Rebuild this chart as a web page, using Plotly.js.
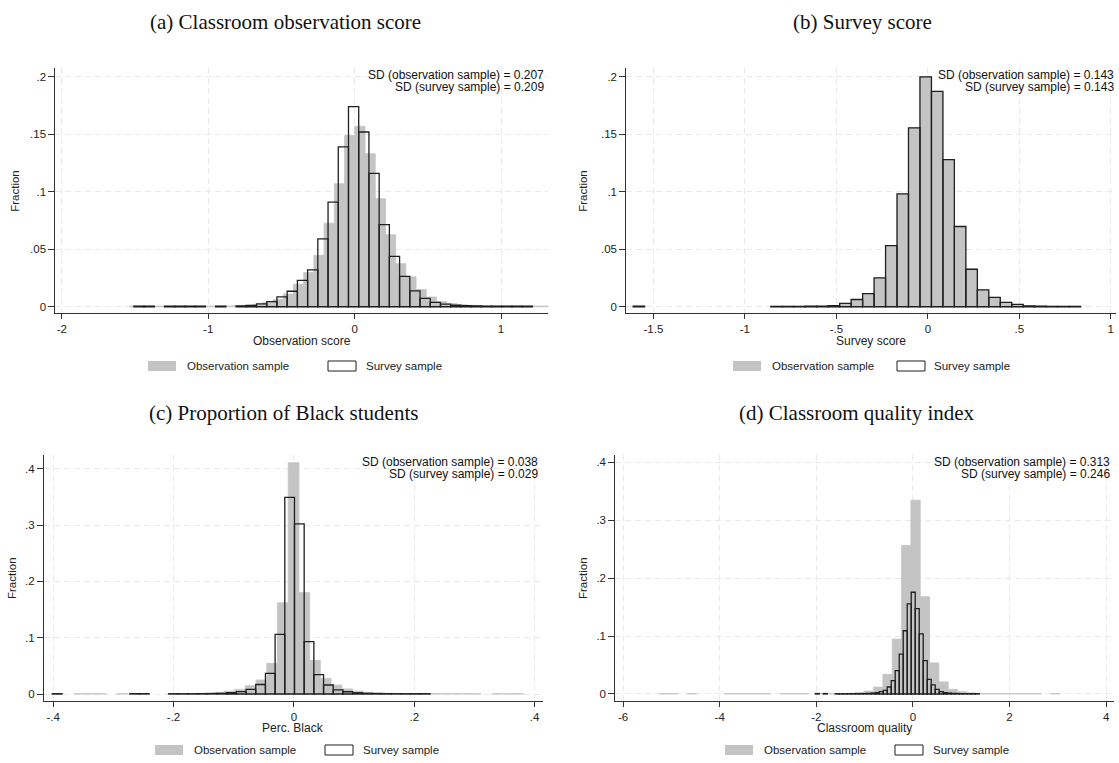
<!DOCTYPE html>
<html><head><meta charset="utf-8">
<script src="https://cdn.plot.ly/plotly-3.0.1.min.js"></script>
<style>html,body{margin:0;padding:0;background:#fff;}#chart{width:1119px;height:763px;}</style>
</head><body><div id="chart"></div>
<script>
// ---------- DATA (fraction per histogram bin; null = empty bin) ----------
// Panel (a) Classroom observation score
const obsA_start = -1.5346, obsA_width = 0.0698;
const obsA = [0.0006,0.0006,0.0006,0.0006,0.0006,0.0006,0.0006,0.0006,0.0006,0.0006,
  0.0008,0.0012,0.002,0.0035,0.0062,0.011,0.0196,0.0297,0.0447,0.0727,0.107,0.149,
  0.157,0.133,0.094,0.0626,0.0375,0.026,0.015,0.0085,0.0045,0.0028,0.0018,0.0012,
  0.0009,0.0007,0.0006,0.0006,0.0006,0.0006,0.0006];
const surA_start = -1.5078, surA_width = 0.0698;
const surA = [0.0005,0.0005,null,0.0005,0.0005,0.0005,0.0005,null,0.0005,null,0.0007,0.0012,
  0.0025,0.0045,0.0085,0.0135,0.023,0.032,0.059,0.091,0.139,0.174,0.152,0.116,0.0715,
  0.0438,0.0265,0.0138,0.0072,0.0038,0.0022,0.0013,0.0009,0.0007,0.0005,0.0005,0.0005,
  0.0005,0.0005];
// Panel (b) Survey score
const obsB_start = -1.6105, obsB_width = 0.0627;
const obsB = [0.0005,null,null,null,null,null,null,null,null,null,null,null,0.0004,0.0004,0.0004,0.0005,0.0006,0.001,
  0.0029,0.0063,0.0115,0.0251,0.0531,0.0981,0.1556,0.2,0.1873,0.128,0.0698,0.0326,
  0.0147,0.0081,0.0038,0.002,0.0008,0.0005,0.0004,0.0004,0.0004];
const surB_start = -1.6105, surB_width = 0.0627;
const surB = [0.0005,null,null,null,null,null,null,null,null,null,null,null,0.0004,0.0004,0.0004,0.0005,0.0006,0.001,
  0.0029,0.0063,0.0115,0.0251,0.0531,0.0981,0.1556,0.2,0.1873,0.128,0.0698,0.0326,
  0.0147,0.0081,0.0038,0.002,0.0008,0.0005,0.0004,0.0004,0.0004];
// Panel (c) Proportion of Black students
const obsC_start = -0.401, obsC_width = 0.0178;
const obsC = [0.0006,null,0.0006,0.0006,0.0006,null,0.0006,null,null,null,null,0.0006,0.0007,0.001,0.0018,
  0.003,0.005,0.0083,0.0148,0.0249,0.0544,0.162,0.4107,0.18,0.0598,0.0278,0.016,0.009,
  0.005,0.003,0.002,0.0013,0.001,0.0008,0.0007,0.0006,0.0006,0.0006,0.0006,0.0006,null,
  0.0006,0.0006,0.0006];
const surC_start = -0.4015, surC_width = 0.0161;
const surC = [0.0006,null,null,null,null,null,null,null,0.0006,0.0006,null,null,0.0005,0.0005,0.0005,0.0006,0.0008,
  0.0012,0.0024,0.0041,0.0083,0.0169,0.0365,0.106,0.349,0.302,0.093,0.0345,0.016,0.0075,
  0.004,0.0022,0.0012,0.0008,0.0006,0.0005,0.0005,0.0006,0.0006];
// Panel (d) Classroom quality index
const obsD_start = -5.252, obsD_width = 0.193;
const obsD = [0.0008,0.0008,null,0.0008,null,null,null,0.0008,0.0008,0.0008,0.0008,0.0008,null,0.0008,
  0.0008,0.0008,null,0.0008,0.0008,0.0009,0.0012,0.0022,0.005,0.012,0.034,0.0948,0.2566,
  0.3347,0.168,0.0538,0.0208,0.008,0.004,0.0018,0.0009,0.0008,0.0008,0.0008,0.0008,
  0.0008,0.0008,null,0.0008];
const surD_start = -2.0217, surD_width = 0.0828;
const surD = [0.0008,null,0.0008,null,null,0.0005,0.0005,0.0005,0.0005,0.0005,0.0006,0.0007,0.0008,
  0.001,0.0015,0.0025,0.004,0.0064,0.0121,0.0231,0.0405,0.0688,0.1092,0.1555,0.1757,
  0.1474,0.104,0.0578,0.0254,0.0156,0.0081,0.004,0.0025,0.0015,0.001,0.0008,0.0006,
  0.0005,0.0005,0.0005,0.0005];

const titles = ['(a) Classroom observation score','(b) Survey score',
  '(c) Proportion of Black students','(d) Classroom quality index'];
const xTitles = ['Observation score','Survey score','Perc. Black','Classroom quality'];
const sdObs = ['0.207','0.143','0.038','0.313'];
const sdSur = ['0.209','0.143','0.029','0.246'];
const xTickVals = [[-2,-1,0,1],[-1.5,-1,-0.5,0,0.5,1],[-0.4,-0.2,0,0.2,0.4],[-6,-4,-2,0,2,4]];
const xTickText = [['-2','-1','0','1'],['-1.5','-1','-.5','0','.5','1'],['-.4','-.2','0','.2','.4'],['-6','-4','-2','0','2','4']];
const yTickVals = [[0,0.05,0.1,0.15,0.2],[0,0.05,0.1,0.15,0.2],[0,0.1,0.2,0.3,0.4],[0,0.1,0.2,0.3,0.4]];
const yTickText = [['0','.05','.1','.15','.2'],['0','.05','.1','.15','.2'],['0','.1','.2','.3','.4'],['0','.1','.2','.3','.4']];
const legendLabels = ['Observation sample','Survey sample'];

// ---------- helpers ----------
const W = 1119, H = 763;
const fx = p => p / W, fy = p => 1 - p / H;
function centers(start, width, n){ const c=[]; for(let i=0;i<n;i++) c.push(start + width*(i+0.5)); return c; }

const GRAY = '#c4c4c4', DARK = '#1f1f1f';
const SANS = 'Liberation Sans, Arial, sans-serif';
const SERIF = 'Liberation Serif, Times New Roman, serif';

// panel geometry in pixels
const panels = [
  {x0:55.4, x1:548.2, y0:68.3, y1:313.3, xr:[-2.0437,1.322], yr:[-0.0057,0.2074]},
  {x0:626.3, x1:1116, y0:68.3, y1:313.3, xr:[-1.648,1.0284], yr:[-0.0057,0.2074]},
  {x0:43.9, x1:542.9, y0:455, y1:701, xr:[-0.4154,0.4138], yr:[-0.0124,0.4243]},
  {x0:615.3, x1:1114.4, y0:455, y1:701, xr:[-6.161,4.172], yr:[-0.0121,0.4128]}
];
const series = [
  [obsA, obsA_start, obsA_width, surA, surA_start, surA_width],
  [obsB, obsB_start, obsB_width, surB, surB_start, surB_width],
  [obsC, obsC_start, obsC_width, surC, surC_start, surC_width],
  [obsD, obsD_start, obsD_width, surD, surD_start, surD_width]
];
const titlePos = [[285,22],[862,22],[283,413],[857,413]];
const sdPos = [[546,75,86.7],[1116,75,86.7],[540,462.3,473.7],[1111.5,462.3,473.7]];
const legPos = [[148,185,328,364,366],[733,770,897,932,366],[155,192,325,361,750],[725,762,895,931,750]];
const fracX = [15,583,12,583];
const xTitleY = [341,341,728,728];

const data = [], layout = {
  width:W, height:H, margin:{l:0,r:0,t:0,b:0}, paper_bgcolor:'#fff', plot_bgcolor:'#fff',
  barmode:'overlay', showlegend:false, annotations:[], shapes:[]
};

panels.forEach((p, i) => {
  const sfx = i === 0 ? '' : String(i+1);
  const [ov, os, ow, sv, ss, sw] = series[i];
  data.push({type:'bar', x:centers(os, ow, ov.length), y:ov, width:ow,
    xaxis:'x'+sfx, yaxis:'y'+sfx, hoverinfo:'skip',
    marker:{color:GRAY, line:{color:GRAY, width:0.8}}});
  data.push({type:'bar', x:centers(ss, sw, sv.length), y:sv, width:sw,
    xaxis:'x'+sfx, yaxis:'y'+sfx, hoverinfo:'skip',
    marker:{color:'rgba(0,0,0,0)', line:{color:DARK, width:1.3}}});
  const common = {ticks:'outside', ticklen:6, tickwidth:1, tickcolor:'#333',
    showline:true, linecolor:'#333', linewidth:1, showgrid:true, gridcolor:'#e9e9e9',
    griddash:'6px,4px', gridwidth:1, zeroline:false, fixedrange:true,
    tickfont:{family:SANS, size:11.5, color:'#222'}};
  layout['xaxis'+sfx] = Object.assign({}, common, {domain:[fx(p.x0), fx(p.x1)], range:p.xr,
    tickmode:'array', tickvals:xTickVals[i], ticktext:xTickText[i], anchor:'y'+sfx, ticklen:5});
  layout['yaxis'+sfx] = Object.assign({}, common, {domain:[fy(p.y1), fy(p.y0)], range:p.yr,
    tickmode:'array', tickvals:yTickVals[i], ticktext:yTickText[i], anchor:'x'+sfx});

  const A = layout.annotations;
  A.push({xref:'paper', yref:'paper', x:fx(titlePos[i][0]), y:fy(titlePos[i][1]), text:titles[i],
    showarrow:false, xanchor:'center', yanchor:'middle', font:{family:SERIF, size:21, color:'#111'}});
  A.push({xref:'paper', yref:'paper', x:fx(sdPos[i][0]), y:fy(sdPos[i][1]),
    text:'SD (observation sample) = '+sdObs[i], showarrow:false, xanchor:'right', yanchor:'middle',
    font:{family:SANS, size:12, color:'#111'}});
  A.push({xref:'paper', yref:'paper', x:fx(sdPos[i][0]), y:fy(sdPos[i][2]),
    text:'SD (survey sample) = '+sdSur[i], showarrow:false, xanchor:'right', yanchor:'middle',
    font:{family:SANS, size:12, color:'#111'}});
  A.push({xref:'paper', yref:'paper', x:fx(fracX[i]), y:fy((p.y0+p.y1)/2), text:'Fraction',
    textangle:-90, showarrow:false, xanchor:'center', yanchor:'middle', font:{family:SANS, size:11.5, color:'#222'}});
  A.push({xref:'paper', yref:'paper', x:fx((p.x0+p.x1)/2), y:fy(xTitleY[i]), text:xTitles[i],
    showarrow:false, xanchor:'center', yanchor:'middle', font:{family:SANS, size:12, color:'#222'}});
  const L = legPos[i], ly = L[4];
  layout.shapes.push({type:'rect', xref:'paper', yref:'paper', x0:fx(L[0]), x1:fx(L[0]+28),
    y0:fy(ly+5), y1:fy(ly-5), fillcolor:GRAY, line:{width:0}});
  layout.shapes.push({type:'rect', xref:'paper', yref:'paper', x0:fx(L[2]), x1:fx(L[2]+28),
    y0:fy(ly+5), y1:fy(ly-5), fillcolor:'#fff', line:{color:DARK, width:1}});
  A.push({xref:'paper', yref:'paper', x:fx(L[1]), y:fy(ly), text:legendLabels[0], showarrow:false,
    xanchor:'left', yanchor:'middle', font:{family:SANS, size:11.5, color:'#222'}});
  A.push({xref:'paper', yref:'paper', x:fx(L[3]), y:fy(ly), text:legendLabels[1], showarrow:false,
    xanchor:'left', yanchor:'middle', font:{family:SANS, size:11.5, color:'#222'}});
});

Plotly.newPlot('chart', data, layout, {staticPlot:true, displayModeBar:false});
</script></body></html>
